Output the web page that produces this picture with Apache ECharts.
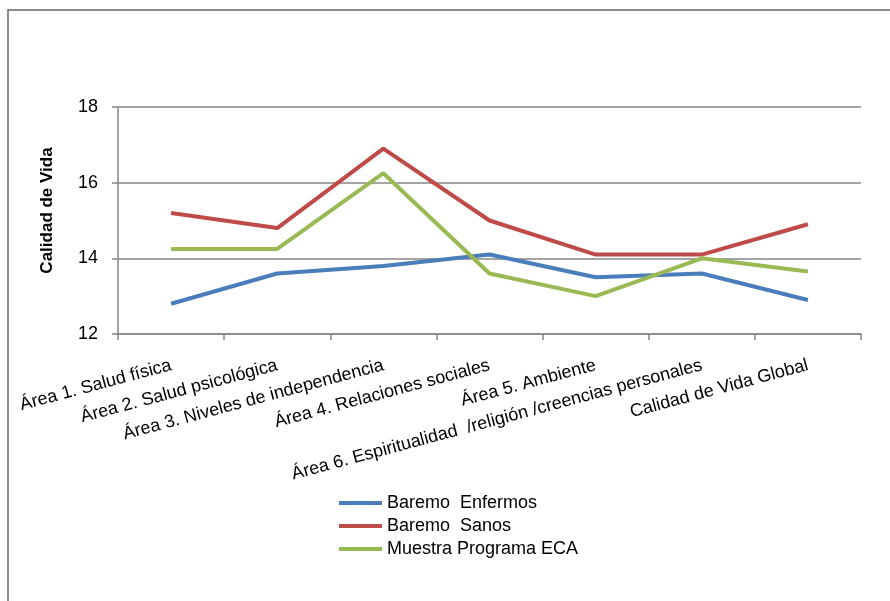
<!DOCTYPE html>
<html>
<head>
<meta charset="utf-8">
<script src="https://cdn.jsdelivr.net/npm/echarts@6/dist/echarts.min.js"></script>
<style>html,body{margin:0;padding:0;background:#fff}#c{width:890px;height:601px}</style>
</head>
<body>
<div id="c"></div>
<script>
const categories = [
  'Área 1. Salud física',
  'Área 2. Salud psicológica',
  'Área 3. Niveles de independencia',
  'Área 4. Relaciones sociales',
  'Área 5. Ambiente',
  'Área 6. Espiritualidad  /religión /creencias personales',
  'Calidad de Vida Global'
];
const seriesNames = ['Baremo  Enfermos', 'Baremo  Sanos', 'Muestra Programa ECA'];
const enfermos = [12.8, 13.6, 13.8, 14.1, 13.5, 13.6, 12.9];
const sanos = [15.2, 14.8, 16.9, 15.0, 14.1, 14.1, 14.9];
const muestra = [14.25, 14.25, 16.25, 13.6, 13.0, 14.0, 13.65];
const yTicks = [12, 14, 16, 18];
const yTitle = 'Calidad de Vida';

const colors = ['#4A7EBB', '#BE4B48', '#98B954'];
const font = 'Liberation Sans, Arial, sans-serif';
const axisGray = '#868686';

const chart = echarts.init(document.getElementById('c'), null, {renderer: 'canvas'});
const mk = (name, data, i) => ({
  name, type: 'line', data, showSymbol: false, symbol: 'none',
  lineStyle: {color: colors[i], width: 4}, itemStyle: {color: colors[i]},
  emphasis: {disabled: true}, animation: false
});
chart.setOption({
  animation: false,
  textStyle: {fontFamily: font},
  graphic: [{
    type: 'rect', silent: true,
    shape: {x: 8, y: 10, width: 1000, height: 1000},
    style: {fill: 'none', stroke: '#8c8c8c', lineWidth: 2}
  }],
  grid: {left: 118, right: 29, top: 107, bottom: 267, containLabel: false},
  legend: {
    orient: 'vertical', left: 334, top: 489,
    icon: 'rect', itemWidth: 43, itemHeight: 4, itemGap: 5,
    textStyle: {fontSize: 18, color: '#000', fontFamily: font, lineHeight: 18},
    data: seriesNames
  },
  xAxis: {
    type: 'category', data: categories, boundaryGap: true,
    axisLine: {show: true, lineStyle: {color: axisGray, width: 1.5}},
    axisTick: {show: true, alignWithLabel: false, length: 6, lineStyle: {color: axisGray, width: 1.5}},
    axisLabel: {interval: 0, rotate: 15, margin: 31, fontSize: 18, color: '#000', fontFamily: font},
    splitLine: {show: false}
  },
  yAxis: {
    type: 'value', min: yTicks[0], max: yTicks[yTicks.length - 1], interval: 2,
    name: yTitle, nameLocation: 'middle', nameGap: 62, nameRotate: 90,
    nameTextStyle: {fontSize: 17, fontWeight: 'bold', color: '#000', fontFamily: font, padding: [0, 0, 0, 20]},
    axisLine: {show: true, lineStyle: {color: axisGray, width: 1.5}},
    axisTick: {show: true, length: 6, lineStyle: {color: axisGray, width: 1.5}},
    axisLabel: {margin: 20, fontSize: 18, color: '#000', fontFamily: font},
    splitLine: {show: true, lineStyle: {color: axisGray, width: 1.5}}
  },
  series: [mk(seriesNames[0], enfermos, 0), mk(seriesNames[1], sanos, 1), mk(seriesNames[2], muestra, 2)]
});
</script>
</body>
</html>
